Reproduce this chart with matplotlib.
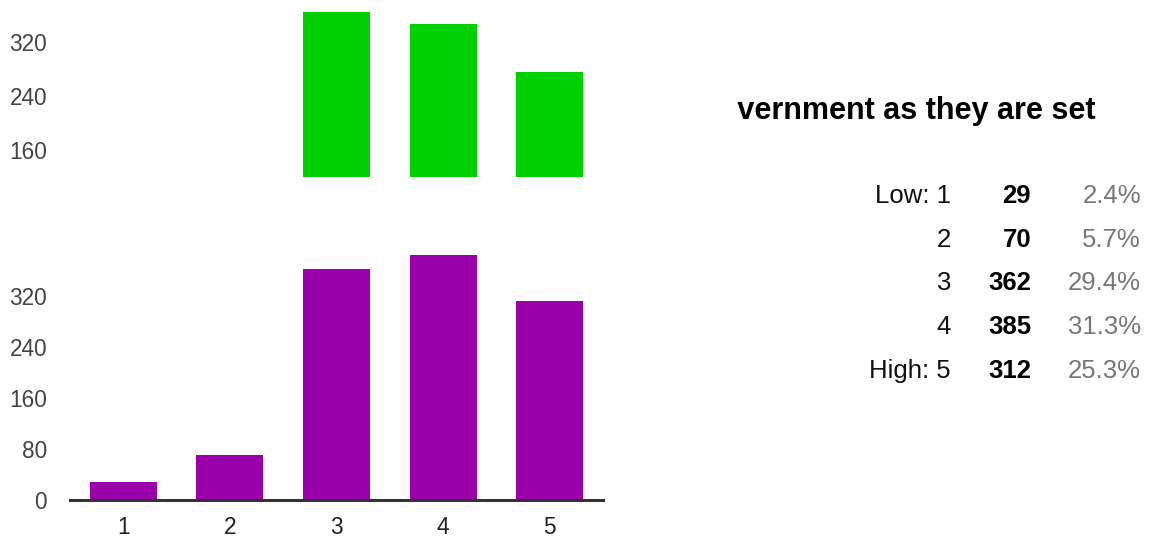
import matplotlib
matplotlib.use("Agg")
import matplotlib.pyplot as plt

plt.rcParams['font.family'] = ['Liberation Sans', 'DejaVu Sans']

# Response counts per rating
categories = [1, 2, 3, 4, 5]
counts = [29, 70, 362, 385, 312]
row_labels = ["Low: 1", "2", "3", "4", "High: 5"]
percents = ["2.4%", "5.7%", "29.4%", "31.3%", "25.3%"]

# Previous question's chart (only its upper part is in view)
prev_categories = [3, 4, 5]
prev_counts = [364, 347, 276]

title = "government as they are set"

W, H = 1152, 538
fig = plt.figure(figsize=(W / 100, H / 100), dpi=100)


def px_rect(x0, y0, x1, y1):
    return [x0 / W, 1 - y1 / H, (x1 - x0) / W, (y1 - y0) / H]


def px(x, y):
    return x / W, 1 - y / H


label_color = "#444444"
tick_pt = 16.3

# Upper (previous) chart, cut off at its lower part
ax_top = fig.add_axes(px_rect(70, 0, 603, 177))
ax_top.bar(prev_categories, prev_counts, width=0.63, color="#00d000")
ax_top.set_xlim(0.5, 5.5)
ax_top.set_ylim(120, 382.2)
ax_top.set_yticks([160, 240, 320])
ax_top.set_xticks([])
for s in ax_top.spines.values():
    s.set_visible(False)
ax_top.tick_params(axis='y', length=0, pad=16.5, labelsize=tick_pt, labelcolor=label_color)

# Lower chart
ax = fig.add_axes(px_rect(70, 177, 603, 500))
ax.bar(categories, counts, width=0.63, color="#9900aa", zorder=2)
ax.set_xlim(0.5, 5.5)
ax.set_ylim(0, 323 / 0.637)
ax.set_yticks([0, 80, 160, 240, 320])
ax.set_xticks(categories)
for name, s in ax.spines.items():
    s.set_visible(name == 'bottom')
ax.spines['bottom'].set_color("#333333")
ax.spines['bottom'].set_linewidth(2.2)
ax.spines['bottom'].set_zorder(3)
ax.tick_params(axis='y', length=0, pad=16.5, labelsize=tick_pt, labelcolor=label_color)
ax.tick_params(axis='x', length=0, pad=11.5, labelsize=tick_pt, labelcolor="#222222")

# Title, clipped at its left side
clip_left = 736
ax_title = fig.add_axes(px_rect(clip_left, 80, W, 140))
ax_title.set_axis_off()
ax_title.set_xlim(clip_left, W)
ax_title.set_ylim(140, 80)
ax_title.text(1096, 119, title, ha='right', va='baseline', fontsize=22.0,
              fontweight='bold', color='black', clip_on=True)

# Summary table
table_pt = 18.5
row_y = [196, 239.7, 283.4, 327, 370.8]
for lab, c, p, y in zip(row_labels, counts, percents, row_y):
    fig.text(*px(951, y), lab, ha='right', va='center', fontsize=table_pt, color='#111111')
    fig.text(*px(1031, y), str(c), ha='right', va='center', fontsize=table_pt,
             fontweight='bold', color='black')
    fig.text(*px(1141, y), p, ha='right', va='center', fontsize=table_pt, color='#777777')

fig.savefig("out.png", dpi=100, facecolor='white')
